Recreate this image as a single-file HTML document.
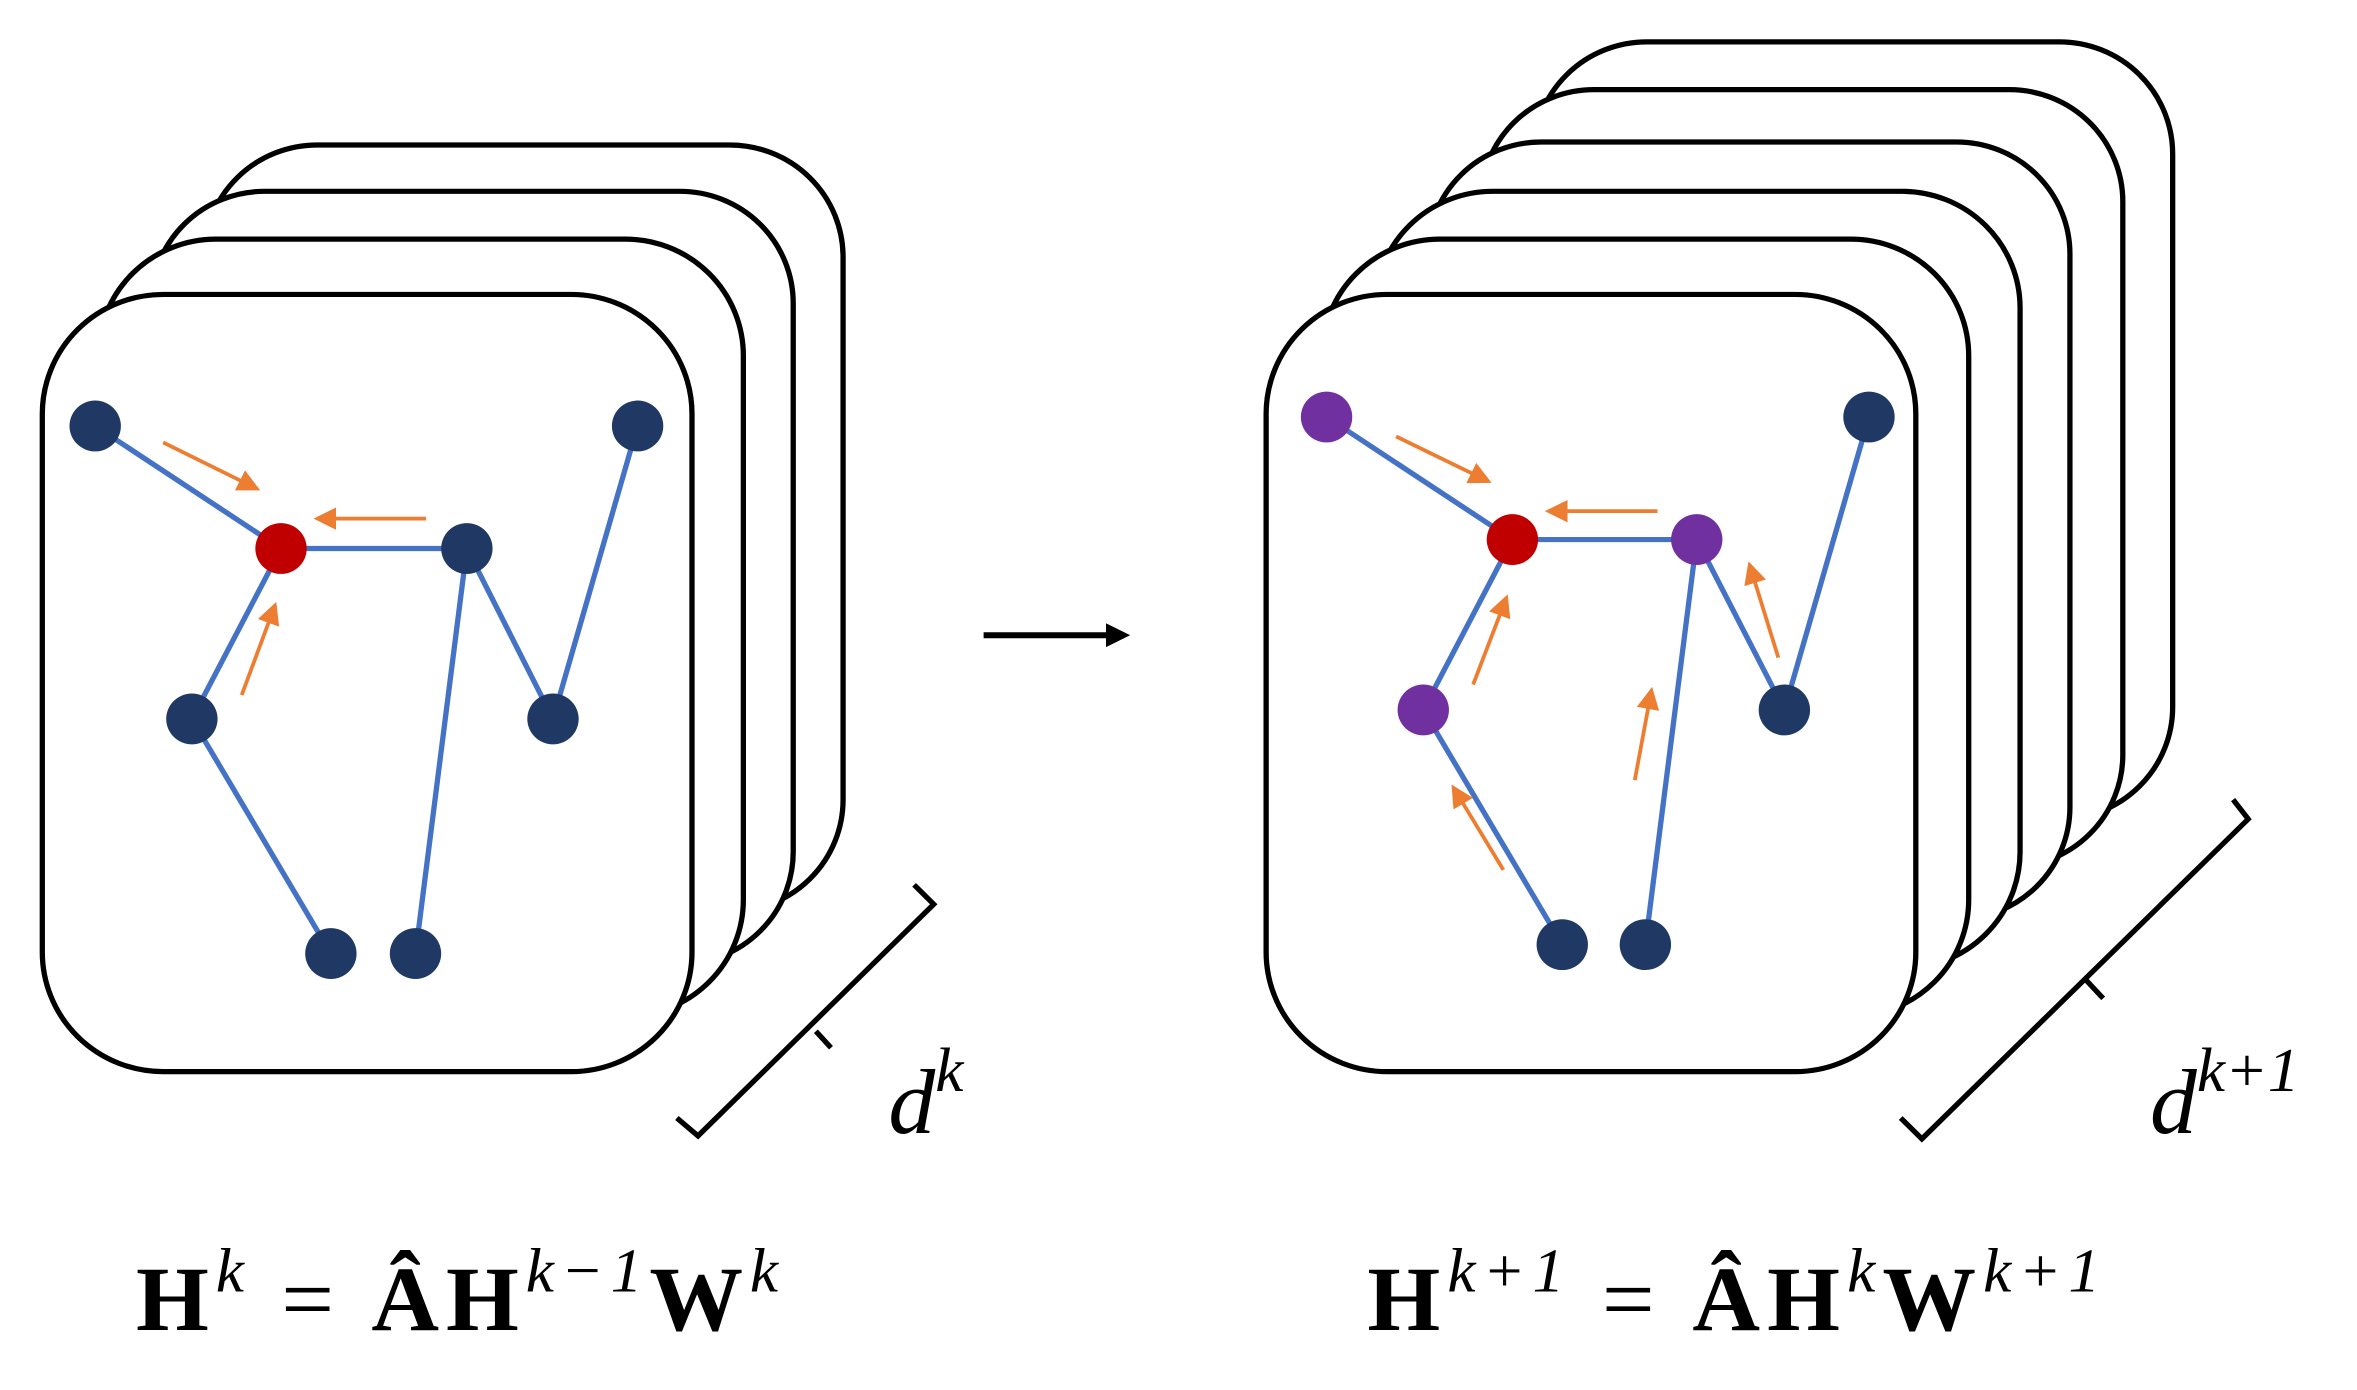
<!DOCTYPE html>
<html><head><meta charset="utf-8"><style>html,body{margin:0;padding:0;background:#fff}svg{display:block}</style></head>
<body>
<svg width="2357" height="1390" viewBox="0 0 1560 930" preserveAspectRatio="none" xmlns="http://www.w3.org/2000/svg">
<defs>
<marker id="oa" markerWidth="6" markerHeight="6" refX="5" refY="3" orient="auto" markerUnits="strokeWidth"><path d="M0,0 L6,3 L0,6 z" fill="#ED7D31"/></marker>
<marker id="ba" markerWidth="4" markerHeight="4" refX="3" refY="2" orient="auto" markerUnits="strokeWidth"><path d="M0,0 L4,2 L0,4 z" fill="#000"/></marker>
</defs>
<g fill="#fff" stroke="#000" stroke-width="3.5">
<rect x="135" y="97" width="423" height="513" rx="75"/>
<rect x="100" y="128" width="425" height="517" rx="75"/>
<rect x="65" y="160" width="427" height="520" rx="78"/>
<rect x="28" y="197" width="430" height="520" rx="80"/>
<rect x="1015" y="28" width="423" height="520" rx="75"/>
<rect x="980" y="60" width="425" height="520" rx="75"/>
<rect x="945" y="95" width="425" height="520" rx="75"/>
<rect x="910" y="128" width="427" height="520" rx="78"/>
<rect x="875" y="160" width="428" height="520" rx="78"/>
<rect x="838" y="197" width="430" height="520" rx="80"/>
</g>
<g stroke="#4472C4" stroke-width="3.5" fill="none">
<path d="M63,285 L186,367 L309,367 M186,367 L127,481 L219,638 M309,367 L275,638 M309,367 L366,481 L422,285"/>
<path d="M878,279 L1001,361 L1123,361 M1001,361 L942,475 L1034,632 M1123,361 L1089,632 M1123,361 L1181,475 L1237,279"/>
</g>
<g stroke="#ED7D31" stroke-width="2.5" marker-end="url(#oa)">
<line x1="108" y1="296" x2="170" y2="327"/>
<line x1="282" y1="347" x2="210" y2="347"/>
<line x1="160" y1="465" x2="182" y2="405"/>
<line x1="924" y1="292" x2="985" y2="322"/>
<line x1="1097" y1="342" x2="1025" y2="342"/>
<line x1="975" y1="458" x2="997" y2="400"/>
<line x1="1177" y1="440" x2="1158" y2="378"/>
<line x1="1082" y1="522" x2="1093" y2="462"/>
<line x1="995" y1="582" x2="962" y2="527"/>
</g>
<g fill="#1F3864">
<circle cx="63" cy="285" r="17"/><circle cx="422" cy="285" r="17"/><circle cx="309" cy="367" r="17"/>
<circle cx="127" cy="481" r="17"/><circle cx="366" cy="481" r="17"/><circle cx="219" cy="638" r="17"/><circle cx="275" cy="638" r="17"/>
<circle cx="1237" cy="279" r="17"/><circle cx="1181" cy="475" r="17"/><circle cx="1034" cy="632" r="17"/><circle cx="1089" cy="632" r="17"/>
</g>
<circle cx="186" cy="367" r="17" fill="#C00000"/>
<circle cx="1001" cy="361" r="17" fill="#C00000"/>
<g fill="#7030A0"><circle cx="878" cy="279" r="17"/><circle cx="1123" cy="361" r="17"/><circle cx="942" cy="475" r="17"/></g>
<line x1="651" y1="425" x2="744" y2="425" stroke="#000" stroke-width="4" marker-end="url(#ba)"/>
<g stroke="#000" stroke-width="3.5" fill="none">
<path d="M448,748 L462,760 L618,605 L605,592 M540,690 L550,701"/>
<path d="M1258,748 L1272,762 L1488,548 L1478,535 M1380,655 L1392,668"/>
</g>
<g font-family="Liberation Serif, serif" font-style="italic" font-size="62">
<text x="588" y="758">d<tspan font-size="42" dy="-28">k</tspan></text>
<text x="1423" y="758">d<tspan font-size="42" dy="-28">k+1</tspan></text>
</g>
<g font-family="Liberation Serif, serif" font-size="62">
<text x="90" y="890" textLength="425" lengthAdjust="spacing"><tspan font-weight="bold">H</tspan><tspan font-style="italic" font-size="42" dy="-26">k</tspan><tspan dy="26"> = </tspan><tspan font-weight="bold">ÂH</tspan><tspan font-style="italic" font-size="42" dy="-26">k−1</tspan><tspan font-weight="bold" dy="26">W</tspan><tspan font-style="italic" font-size="42" dy="-26">k</tspan></text>
<text x="905" y="890" textLength="485" lengthAdjust="spacing"><tspan font-weight="bold">H</tspan><tspan font-style="italic" font-size="42" dy="-26">k+1</tspan><tspan dy="26"> = </tspan><tspan font-weight="bold">ÂH</tspan><tspan font-style="italic" font-size="42" dy="-26">k</tspan><tspan font-weight="bold" dy="26">W</tspan><tspan font-style="italic" font-size="42" dy="-26">k+1</tspan></text>
</g>
</svg>
</body></html>
